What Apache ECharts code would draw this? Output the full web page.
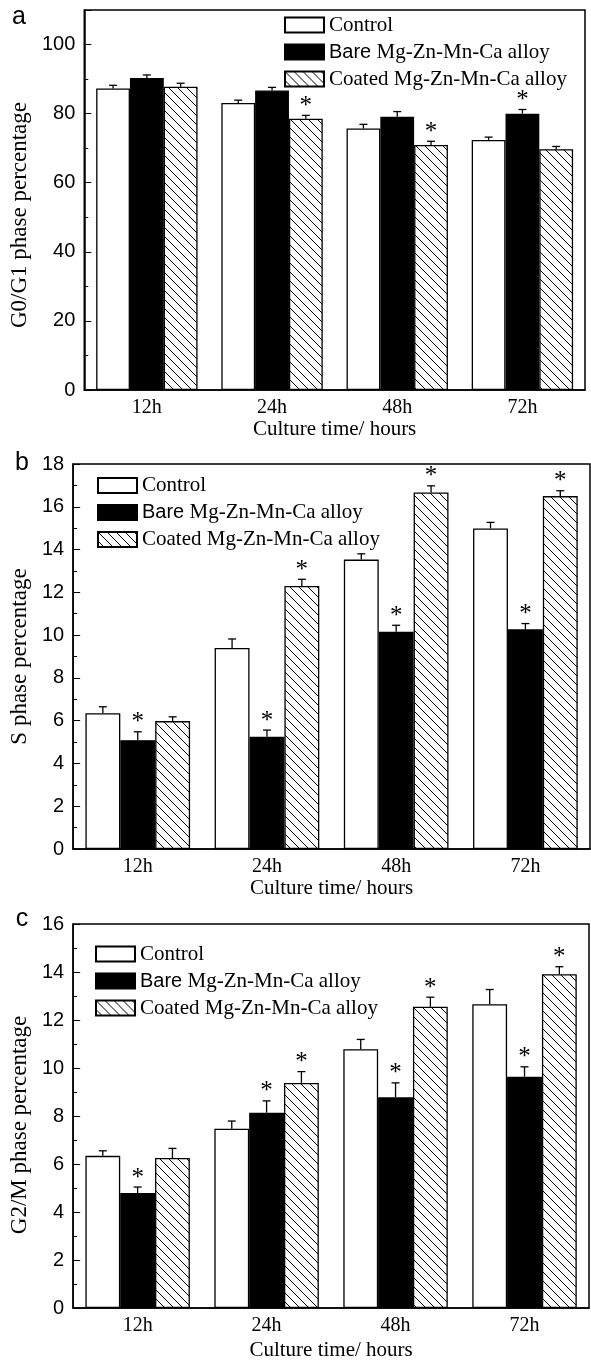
<!DOCTYPE html>
<html>
<head>
<meta charset="utf-8">
<script src="https://cdn.jsdelivr.net/npm/echarts@6/dist/echarts.min.js"></script>
<style>
html,body{margin:0;padding:0;background:#fff;}
#chart{width:591px;height:1362px;}
</style>
</head>
<body>
<div id="chart"></div>
<script>
// ---------- data ----------
const categories = ['12h', '24h', '48h', '72h'];
const seriesNames = ['Control', 'Bare Mg-Zn-Mn-Ca alloy', 'Coated Mg-Zn-Mn-Ca alloy'];

// panel a: G0/G1 phase percentage
const aControl    = [87.3, 83.1, 75.7, 72.4];
const aControlSd  = [0.9, 0.8, 1.2, 0.8];
const aControlSig = [0, 0, 0, 0];
const aBare       = [90.3, 86.7, 79.1, 80.0];
const aBareSd     = [0.9, 0.9, 1.5, 1.2];
const aBareSig    = [0, 0, 0, 1];
const aCoated     = [87.8, 78.5, 70.9, 69.7];
const aCoatedSd   = [1.0, 1.0, 1.1, 0.8];
const aCoatedSig  = [0, 1, 1, 0];
const aTicks      = [0, 20, 40, 60, 80, 100];

// panel b: S phase percentage
const bControl    = [6.35, 9.40, 13.53, 14.99];
const bControlSd  = [0.30, 0.42, 0.27, 0.28];
const bControlSig = [0, 0, 0, 0];
const bBare       = [5.09, 5.25, 10.16, 10.27];
const bBareSd     = [0.39, 0.31, 0.30, 0.27];
const bBareSig    = [1, 1, 1, 1];
const bCoated     = [5.98, 12.30, 16.67, 16.50];
const bCoatedSd   = [0.20, 0.31, 0.31, 0.25];
const bCoatedSig  = [0, 1, 1, 1];
const bTicks      = [0, 2, 4, 6, 8, 10, 12, 14, 16, 18];

// panel c: G2/M phase percentage
const cControl    = [6.34, 7.47, 10.78, 12.66];
const cControlSd  = [0.21, 0.32, 0.41, 0.61];
const cControlSig = [0, 0, 0, 0];
const cBare       = [4.79, 8.14, 8.78, 9.64];
const cBareSd     = [0.25, 0.49, 0.60, 0.41];
const cBareSig    = [1, 1, 1, 1];
const cCoated     = [6.25, 9.38, 12.55, 13.91];
const cCoatedSd   = [0.40, 0.47, 0.40, 0.31];
const cCoatedSig  = [0, 1, 1, 1];
const cTicks      = [0, 2, 4, 6, 8, 10, 12, 14, 16];

// ---------- styling ----------
const SERIF = '"Liberation Serif", "Times New Roman", serif';
const SANS = '"Liberation Sans", Arial, sans-serif';
const GAP = 0.19;

const hatch = (function () {
  const s = 9;
  const c = document.createElement('canvas');
  c.width = s; c.height = s;
  const g = c.getContext('2d');
  g.fillStyle = '#fff'; g.fillRect(0, 0, s, s);
  g.strokeStyle = '#000'; g.lineWidth = 1;
  g.beginPath();
  g.moveTo(-1, -1); g.lineTo(s + 1, s + 1);
  g.moveTo(s - 1, -1); g.lineTo(s + 1, 1);
  g.moveTo(-1, s - 1); g.lineTo(1, s + 1);
  g.stroke();
  return c;
})();

const fills = ['#ffffff', '#000000', { image: hatch, repeat: 'repeat' }];

const panels = [
  { grid: { left: 76, top: 10, right: 6, height: 380 }, max: 110, interval: 20, ticks: aTicks,
    yName: 'G0/G1 phase percentage', yNameGap: 39, yPad: [0, 30, 0, 0], xNameGap: 28,
    vals: [aControl, aBare, aCoated], sds: [aControlSd, aBareSd, aCoatedSd], sigs: [aControlSig, aBareSig, aCoatedSig],
    legend: { left: 284, top: 14.5 }, label: { t: 'a', x: 19, y: 17 } },
  { grid: { left: 72, top: 464, right: 1, height: 385 }, max: 18, interval: 2, ticks: bTicks,
    yName: 'S phase percentage', yNameGap: 35, yPad: [0, 0, 0, 0], xNameGap: 28,
    vals: [bControl, bBare, bCoated], sds: [bControlSd, bBareSd, bCoatedSd], sigs: [bControlSig, bBareSig, bCoatedSig],
    legend: { left: 97, top: 475 }, label: { t: 'b', x: 22, y: 463 } },
  { grid: { left: 73, top: 924, right: 2, height: 384 }, max: 16, interval: 2, ticks: cTicks,
    yName: 'G2/M phase percentage', yNameGap: 35, yPad: [0, 18, 0, 0], xNameGap: 32,
    vals: [cControl, cBare, cCoated], sds: [cControlSd, cBareSd, cCoatedSd], sigs: [cControlSig, cBareSig, cCoatedSig],
    legend: { left: 95, top: 943.5 }, label: { t: 'c', x: 22, y: 919 } }
];

function errRender(k) {
  return function (params, api) {
    const ci = api.value(0), v = api.value(1), sd = api.value(2), sig = api.value(3);
    const p0 = api.coord([ci, v]);
    const p1 = api.coord([ci, v + sd]);
    const band = api.size([1, 0])[0];
    const bw = band * (1 - GAP) / 3;
    const x = p0[0] + (k - 1) * bw;
    const children = [
      { type: 'line', shape: { x1: x, y1: p0[1], x2: x, y2: p1[1] }, style: { stroke: '#000', lineWidth: 1.3 } },
      { type: 'line', shape: { x1: x - 4, y1: p1[1], x2: x + 4, y2: p1[1] }, style: { stroke: '#000', lineWidth: 1.3 } }
    ];
    if (sig) {
      children.push({ type: 'text', style: { text: '*', x: x, y: p1[1] - 9, font: '25px ' + SERIF, fill: '#000', align: 'center', verticalAlign: 'middle' } });
    }
    return { type: 'group', children: children };
  };
}

const grids = [], xAxes = [], yAxes = [], series = [], legends = [], graphics = [];
panels.forEach(function (p, gi) {
  grids.push(Object.assign({ show: true, borderColor: '#000', borderWidth: 1.5, backgroundColor: 'transparent' }, p.grid));
  xAxes.push({
    type: 'category', gridIndex: gi, data: categories,
    axisLine: { lineStyle: { color: '#000', width: 1.5 } },
    axisTick: { show: false },
    axisLabel: { fontFamily: SERIF, fontSize: 20, color: '#000', margin: 8 },
    name: 'Culture time/ hours', nameLocation: 'middle', nameGap: p.xNameGap,
    nameTextStyle: { fontFamily: SERIF, fontSize: 21, color: '#000' }
  });
  yAxes.push({
    type: 'value', gridIndex: gi, min: 0, max: p.max, interval: p.interval,
    axisLine: { show: true, lineStyle: { color: '#000', width: 1.5 } },
    axisTick: { show: true, inside: true, length: 7, lineStyle: { color: '#000', width: 1 } },
    minorTick: { show: true, splitNumber: 2, length: 4, lineStyle: { color: '#000', width: 1 } },
    splitLine: { show: false }, minorSplitLine: { show: false },
    axisLabel: {
      fontFamily: SANS, fontSize: 20, color: '#000', margin: 9, showMaxLabel: true,
      formatter: function (v) { return p.ticks.indexOf(v) >= 0 ? String(v) : ''; }
    },
    name: p.yName, nameLocation: 'middle', nameGap: p.yNameGap,
    nameTextStyle: { fontFamily: SERIF, fontSize: 23, color: '#000', padding: p.yPad }
  });
  for (let k = 0; k < 3; k++) {
    series.push({
      type: 'bar', name: seriesNames[k], xAxisIndex: gi, yAxisIndex: gi,
      data: p.vals[k], barGap: '0%', barCategoryGap: (GAP * 100) + '%',
      itemStyle: { color: fills[k], borderColor: '#000', borderWidth: 1.3 },
      emphasis: { disabled: true }, animation: false
    });
  }
  for (let k = 0; k < 3; k++) {
    series.push({
      type: 'custom', name: 'err' + gi + '_' + k, xAxisIndex: gi, yAxisIndex: gi,
      renderItem: errRender(k), silent: true, animation: false, z: 5,
      data: p.vals[k].map(function (v, i) { return [i, v, p.sds[k][i], p.sigs[k][i]]; })
    });
  }
  legends.push({
    data: seriesNames, orient: 'vertical', left: p.legend.left, top: p.legend.top,
    padding: 0, itemWidth: 39, itemHeight: 15, itemGap: 6, icon: 'rect',
    selectedMode: false,
    textStyle: {
      fontFamily: SERIF, fontSize: 21, color: '#000', lineHeight: 21,
      rich: { s: { fontFamily: SANS, fontSize: 20, color: '#000', lineHeight: 21 } }
    },
    formatter: function (name) {
      if (name.indexOf('Bare ') === 0) return '{s|Bare} ' + name.slice(5);
      return name;
    }
  });
  graphics.push({
    type: 'text', x: p.label.x, y: p.label.y,
    style: { text: p.label.t, font: '25px ' + SANS, fill: '#000', align: 'center', verticalAlign: 'middle' }
  });
});

const chart = echarts.init(document.getElementById('chart'), null, { renderer: 'canvas' });
chart.setOption({
  animation: false,
  backgroundColor: '#fff',
  grid: grids, xAxis: xAxes, yAxis: yAxes, series: series, legend: legends, graphic: graphics
});
</script>
</body>
</html>
